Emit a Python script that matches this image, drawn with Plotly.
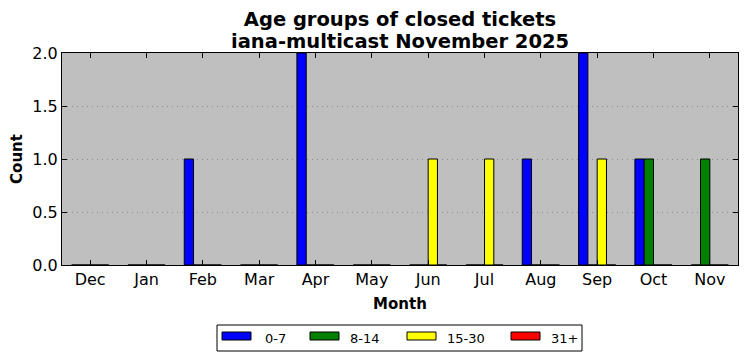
import plotly.graph_objects as go

months = ["Dec", "Jan", "Feb", "Mar", "Apr", "May", "Jun", "Jul", "Aug", "Sep", "Oct", "Nov"]
age_0_7 = [0, 0, 1, 0, 2, 0, 0, 0, 1, 2, 1, 0]
age_8_14 = [0, 0, 0, 0, 0, 0, 0, 0, 0, 0, 1, 1]
age_15_30 = [0, 0, 0, 0, 0, 0, 1, 1, 0, 1, 0, 0]
age_31_plus = [0, 0, 0, 0, 0, 0, 0, 0, 0, 0, 0, 0]
series_names = ["0-7", "8-14", "15-30", "31+"]
series_colors = ["#0000ff", "#008000", "#ffff00", "#ff0000"]
series_values = [age_0_7, age_8_14, age_15_30, age_31_plus]
title_line1 = "Age groups of closed tickets"
title_line2 = "iana-multicast November 2025"

FONT = "DejaVu Sans"
L, R, T, B = 62, 9, 53, 96
W, H = 747, 361
PW, PH = W - L - R, H - T - B

def px2x(px):
    return (px - L) / PW

def py2y(py):
    return (H - B - py) / PH

fig = go.Figure()
for name, color, vals in zip(series_names, series_colors, series_values):
    fig.add_trace(go.Bar(
        x=months, y=vals, name=name,
        marker=dict(color=color, line=dict(color="black", width=1)),
        showlegend=False,
    ))

# custom legend (wide swatches like the reference)
shapes = [dict(type="rect", xref="paper", yref="paper",
               x0=px2x(217), x1=px2x(582), y0=py2y(351), y1=py2y(325),
               line=dict(color="black", width=1), fillcolor="white", layer="above")]
annotations = []
sw_x = [222, 310, 407, 511]
txt_x = [263, 348, 445, 549]
for name, color, sx, tx in zip(series_names, series_colors, sw_x, txt_x):
    shapes.append(dict(type="rect", xref="paper", yref="paper",
                       x0=px2x(sx), x1=px2x(sx + 29), y0=py2y(340), y1=py2y(332),
                       line=dict(color="black", width=1), fillcolor=color, layer="above"))
    annotations.append(dict(xref="paper", yref="paper", x=px2x(tx), y=py2y(338.5),
                            text=name, showarrow=False, xanchor="left", yanchor="middle",
                            font=dict(family=FONT, size=13, color="black")))

# second title line
annotations.append(dict(xref="paper", yref="paper", x=0.5, y=py2y(41), text="<b>" + title_line2 + "</b>",
                        showarrow=False, xanchor="center", yanchor="middle",
                        font=dict(family=FONT, size=19.5, color="black")))

fig.update_layout(
    width=W, height=H,
    margin=dict(l=L, r=R, t=T, b=B),
    paper_bgcolor="white", plot_bgcolor="#bfbfbf",
    barmode="group", bargap=0.34, bargroupgap=0,
    font=dict(family=FONT, color="black"),
    title=dict(text="<b>" + title_line1 + "</b>",
               x=0.5, xanchor="center", xref="paper", yref="container", y=1 - 19 / H, yanchor="middle",
               font=dict(family=FONT, size=19.5, color="black")),
    shapes=shapes, annotations=annotations,
    showlegend=False,
)
fig.update_xaxes(
    type="category", range=[-0.5, 11.5],
    showline=True, linecolor="black", linewidth=1, mirror="ticks",
    ticks="inside", ticklen=5, tickcolor="black",
    tickfont=dict(family=FONT, size=16, color="black"),
    showgrid=False, zeroline=False,
    title=dict(text="<b>Month</b>", font=dict(family=FONT, size=15, color="black"), standoff=10),
)
fig.update_yaxes(
    range=[0, 2], tickvals=[0, 0.5, 1.0, 1.5, 2.0], ticktext=["0.0", "0.5", "1.0", "1.5", "2.0"],
    showline=True, linecolor="black", linewidth=1, mirror="ticks",
    ticks="inside", ticklen=5, tickcolor="black",
    tickfont=dict(family=FONT, size=16, color="black"),
    showgrid=True, gridcolor="#8c8c8c", griddash="1px,4px", gridwidth=1,
    zeroline=False,
    title=dict(text="<b>Count</b>", font=dict(family=FONT, size=15, color="black"), standoff=6),
)
fig.write_html("out.html", config={"displayModeBar": False},
               post_script="document.body.style.margin='0';document.body.style.overflow='hidden';")
